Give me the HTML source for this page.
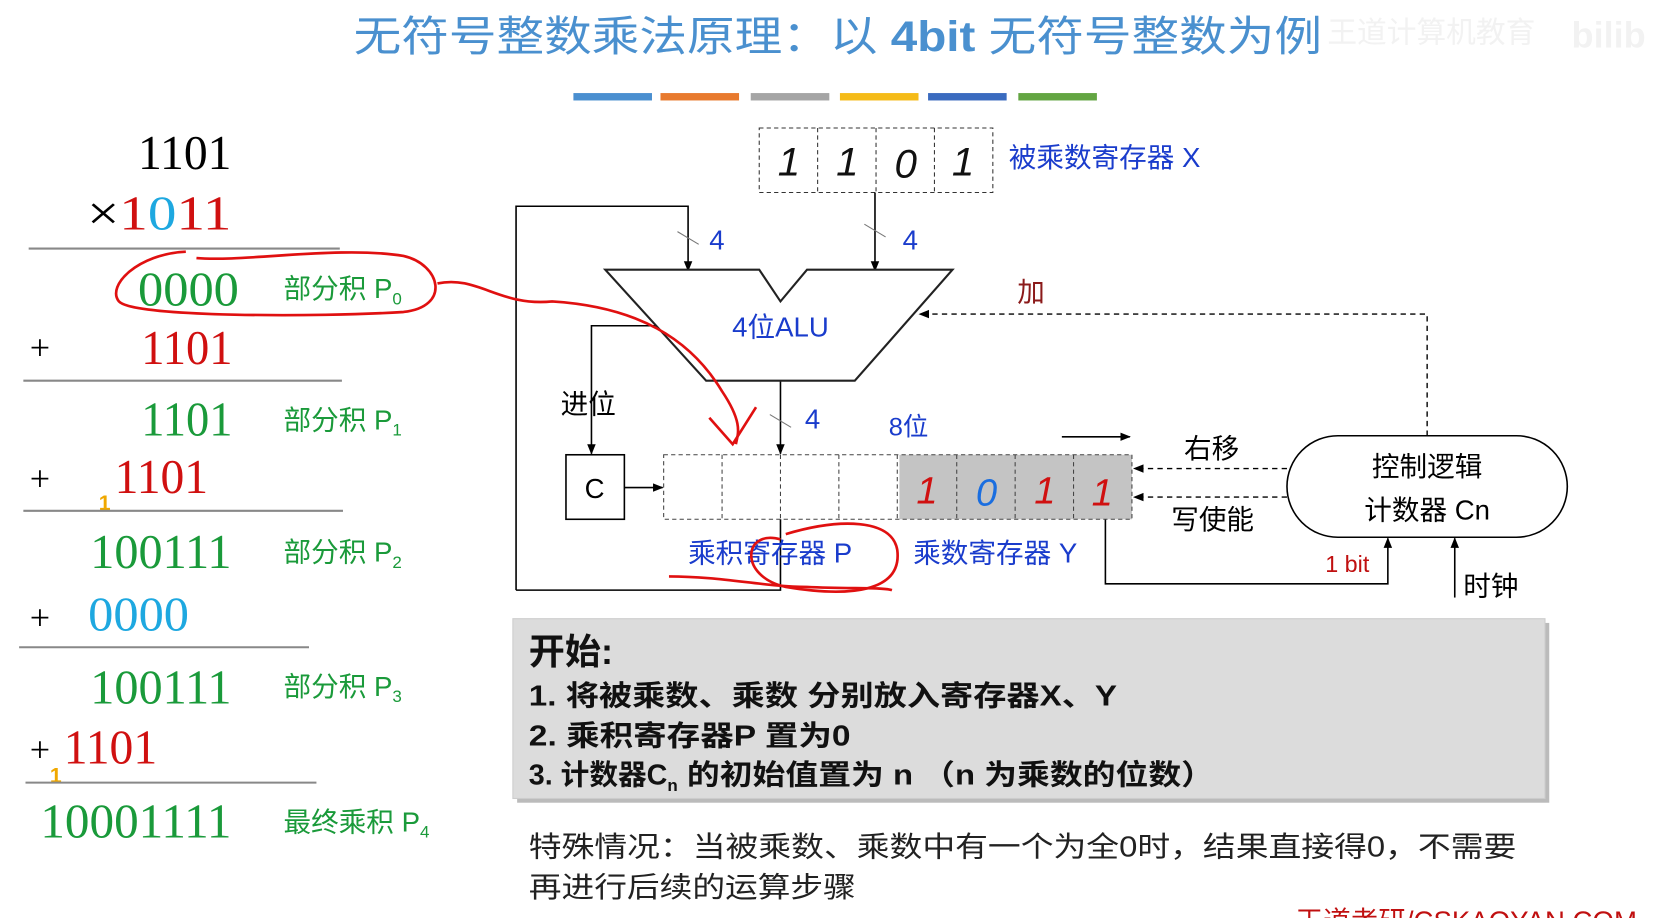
<!DOCTYPE html>
<html><head><meta charset="utf-8"><style>
html,body{margin:0;padding:0;background:#fff;width:1665px;height:918px;overflow:hidden}
svg{display:block}
text{font-family:"Liberation Sans","Noto Sans CJK SC",sans-serif}
.serif{font-family:"Liberation Serif","Noto Serif CJK SC",serif}
</style></head><body>
<svg width="1665" height="918" viewBox="0 0 1568 868" preserveAspectRatio="none" xmlns="http://www.w3.org/2000/svg">
<defs>
<marker id="ar" markerWidth="10" markerHeight="10" refX="9" refY="5" orient="auto" markerUnits="userSpaceOnUse"><path d="M0,1 L10,5 L0,9 z" fill="#000"/></marker>
</defs>
<!-- title -->
<text x="333" y="48" font-size="40" fill="#4a90cf" textLength="912" lengthAdjust="spacingAndGlyphs">无符号整数乘法原理：以 <tspan font-weight="bold">4bit</tspan> 无符号整数为例</text>
<text x="1250" y="40" font-size="28" fill="#f2f2f2">王道计算机教育</text>
<text x="1480" y="45" font-size="34" font-weight="bold" fill="#f2f2f2">bilib</text>
<!-- color bars -->
<rect x="540" y="88" width="74" height="7" fill="#4a8fd0"/>
<rect x="622" y="88" width="74" height="7" fill="#e87a2e"/>
<rect x="707" y="88" width="74" height="7" fill="#a5a5a5"/>
<rect x="791" y="88" width="74" height="7" fill="#f5bb18"/>
<rect x="874" y="88" width="74" height="7" fill="#3a6bbf"/>
<rect x="959" y="88" width="74" height="7" fill="#63a542"/>

<!-- left arithmetic -->
<g class="serif" font-size="46">
<text x="130" y="160" class="serif" textLength="88" lengthAdjust="spacingAndGlyphs">1101</text>
<text x="82" y="217" class="serif" textLength="136" lengthAdjust="spacingAndGlyphs">×<tspan fill="#d01010">1</tspan><tspan fill="#1ea8e0">0</tspan><tspan fill="#d01010">11</tspan></text>
<text x="130" y="289" class="serif" fill="#1a9a3a" textLength="95" lengthAdjust="spacingAndGlyphs">0000</text>
<text x="28" y="340" font-size="34" class="serif">+</text>
<text x="133" y="344" class="serif" fill="#d01010" textLength="86" lengthAdjust="spacingAndGlyphs">1101</text>
<text x="133" y="412" class="serif" fill="#1a9a3a" textLength="86" lengthAdjust="spacingAndGlyphs">1101</text>
<text x="28" y="464" font-size="34" class="serif">+</text>
<text x="108" y="466" class="serif" fill="#d01010" textLength="88" lengthAdjust="spacingAndGlyphs">1101</text>
<text x="85" y="537" class="serif" fill="#1a9a3a" textLength="133" lengthAdjust="spacingAndGlyphs">100111</text>
<text x="28" y="595" font-size="34" class="serif">+</text>
<text x="83" y="596" class="serif" fill="#1ea8e0" textLength="95" lengthAdjust="spacingAndGlyphs">0000</text>
<text x="85" y="665" class="serif" fill="#1a9a3a" textLength="133" lengthAdjust="spacingAndGlyphs">100111</text>
<text x="28" y="720" font-size="34" class="serif">+</text>
<text x="60" y="722" class="serif" fill="#d01010" textLength="88" lengthAdjust="spacingAndGlyphs">1101</text>
<text x="38" y="792" class="serif" fill="#1a9a3a" textLength="180" lengthAdjust="spacingAndGlyphs">10001111</text>
</g>
<text x="93" y="482" font-size="20" font-weight="bold" fill="#f0a800">1</text>
<text x="47" y="740" font-size="20" font-weight="bold" fill="#f0a800">1</text>
<g stroke="#888" stroke-width="2">
<line x1="27" y1="235" x2="320" y2="235"/>
<line x1="22" y1="360" x2="322" y2="360"/>
<line x1="22" y1="483" x2="323" y2="483"/>
<line x1="18" y1="612" x2="291" y2="612"/>
<line x1="24" y1="740" x2="298" y2="740"/>
</g>
<g font-size="26" fill="#1a9a3a">
<text x="267" y="282">部分积 P<tspan font-size="16" dy="6">0</tspan></text>
<text x="267" y="406">部分积 P<tspan font-size="16" dy="6">1</tspan></text>
<text x="267" y="531">部分积 P<tspan font-size="16" dy="6">2</tspan></text>
<text x="267" y="658">部分积 P<tspan font-size="16" dy="6">3</tspan></text>
<text x="267" y="786">最终乘积 P<tspan font-size="16" dy="6">4</tspan></text>
</g>

<!-- X register -->
<rect x="715" y="121" width="220" height="61" fill="#fff" stroke="#333" stroke-dasharray="4,3"/>
<g stroke="#333" stroke-dasharray="4,3"><line x1="770" y1="121" x2="770" y2="182"/><line x1="825" y1="121" x2="825" y2="182"/><line x1="880" y1="121" x2="880" y2="182"/></g>
<g font-size="38" fill="#111" font-style="italic" text-anchor="middle"><text x="743" y="166">1</text><text x="798" y="166">1</text><text x="853" y="168">0</text><text x="907" y="166">1</text></g>
<text x="950" y="158" font-size="26" fill="#1a3ccc">被乘数寄存器 X</text>

<!-- connectors -->
<g stroke="#000" stroke-width="1.5" fill="none">
<line x1="824" y1="182" x2="824" y2="256" marker-end="url(#ar)"/>
<polyline points="486,558 486,195 648,195 648,256" marker-end="url(#ar)"/>
<polyline points="486,558 735,558 735,491"/>
<line x1="735" y1="360" x2="735" y2="429" marker-end="url(#ar)"/>
<polyline points="620,308 557,308 557,429" marker-end="url(#ar)"/>
<line x1="588" y1="461" x2="624" y2="461" marker-end="url(#ar)"/>
<line x1="1000" y1="413" x2="1064" y2="413" marker-end="url(#ar)"/>
<polyline points="1041,491 1041,552 1307,552 1307,509" marker-end="url(#ar)"/>
<line x1="1370" y1="565" x2="1370" y2="509" marker-end="url(#ar)"/>
</g>
<g stroke="#777" stroke-width="1"><line x1="814" y1="212" x2="834" y2="224"/><line x1="638" y1="219" x2="658" y2="231"/><line x1="725" y1="392" x2="745" y2="404"/></g>
<g font-size="26" fill="#1a3ccc"><text x="850" y="236">4</text><text x="668" y="236">4</text><text x="758" y="405">4</text><text x="837" y="412" font-size="24">8位</text></g>
<g stroke="#000" stroke-width="1.3" stroke-dasharray="5,4" fill="none">
<polyline points="1344,412 1344,297 866,297" marker-end="url(#ar)"/>
<line x1="1212" y1="443" x2="1068" y2="443" marker-end="url(#ar)"/>
<line x1="1212" y1="470" x2="1068" y2="470" marker-end="url(#ar)"/>
</g>
<text x="958" y="285" font-size="26" fill="#8b1a1a">加</text>

<!-- ALU -->
<polygon points="570,255 715,255 735,285 760,255 897,255 805,360 665,360" fill="#fff" stroke="#222" stroke-width="2"/>
<text x="735" y="318" font-size="26" fill="#1a3ccc" text-anchor="middle">4位ALU</text>
<text x="528" y="391" font-size="26">进位</text>
<rect x="533" y="430" width="55" height="61" fill="#fff" stroke="#000" stroke-width="1.5"/>
<text x="560" y="471" font-size="26" text-anchor="middle">C</text>

<!-- P/Y register -->
<rect x="847" y="430" width="219" height="61" fill="#c4c4c4"/>
<rect x="625" y="430" width="441" height="61" fill="none" stroke="#444" stroke-dasharray="4,3"/>
<g stroke="#444" stroke-dasharray="4,3"><line x1="680" y1="430" x2="680" y2="491"/><line x1="735" y1="430" x2="735" y2="491"/><line x1="790" y1="430" x2="790" y2="491"/><line x1="845" y1="430" x2="845" y2="491"/><line x1="901" y1="430" x2="901" y2="491"/><line x1="956" y1="430" x2="956" y2="491"/><line x1="1011" y1="430" x2="1011" y2="491"/></g>
<g font-size="36" font-style="italic" text-anchor="middle"><text x="873" y="476" fill="#d01010">1</text><text x="929" y="478" fill="#1a6ee0">0</text><text x="984" y="476" fill="#d01010">1</text><text x="1038" y="478" fill="#d01010">1</text></g>
<text x="648" y="532" font-size="26" fill="#1a3ccc">乘积寄存器 P</text>
<text x="860" y="532" font-size="26" fill="#1a3ccc">乘数寄存器 Y</text>
<text x="1115" y="433" font-size="26">右移</text>
<text x="1103" y="500" font-size="26">写使能</text>
<rect x="1212" y="412" width="264" height="96" rx="48" fill="#fff" stroke="#000" stroke-width="1.5"/>
<text x="1344" y="450" font-size="26" text-anchor="middle">控制逻辑</text>
<text x="1344" y="491" font-size="26" text-anchor="middle">计数器 Cn</text>
<text x="1248" y="541" font-size="22" fill="#c01010">1 bit</text>
<text x="1378" y="563" font-size="26">时钟</text>

<!-- red annotations -->
<g stroke="#e01010" stroke-width="2.5" fill="none">
<path d="M175,238 C130,240 100,270 112,285 C125,300 300,300 380,295 C425,290 415,250 380,242 C320,232 230,248 185,244"/>
<path d="M412,268 C450,260 470,290 520,285 C600,290 650,320 680,370 C700,400 695,410 693,420"/>
<path d="M668,395 L690,420 L712,385"/>
<path d="M735,510 C700,500 695,545 740,555 C800,565 850,560 845,520 C840,490 790,490 740,505"/>
<path d="M630,545 C680,545 720,555 760,555 C800,557 830,555 840,558"/>
<path d="M690,707 C720,712 760,712 805,707"/>
</g>

<!-- grey box -->
<rect x="487" y="589" width="972" height="170" fill="#bbb"/>
<rect x="483" y="585" width="972" height="170" fill="#dcdcdc" stroke="#ccc"/>
<g font-weight="bold" fill="#111">
<text x="498" y="628" font-size="34">开始:</text>
<text x="498" y="667" font-size="27" textLength="554" lengthAdjust="spacingAndGlyphs">1. 将被乘数、乘数 分别放入寄存器X、Y</text>
<text x="498" y="705" font-size="27" textLength="303" lengthAdjust="spacingAndGlyphs">2. 乘积寄存器P 置为0</text>
<text x="498" y="742" font-size="27">3. 计数器C<tspan font-size="16" dy="6">n</tspan><tspan dy="-6" textLength="505" lengthAdjust="spacingAndGlyphs"> 的初始值置为 n （n 为乘数的位数）</tspan></text>
</g>
<text x="498" y="810" font-size="27" fill="#222" textLength="930" lengthAdjust="spacingAndGlyphs">特殊情况：当被乘数、乘数中有一个为全0时，结果直接得0，不需要</text>
<text x="498" y="848" font-size="27" fill="#222" textLength="308" lengthAdjust="spacingAndGlyphs">再进行后续的运算步骤</text>
<text x="1220" y="880" font-size="26" fill="#c01010">王道考研/CSKAOYAN.COM</text>
</svg>
</body></html>
